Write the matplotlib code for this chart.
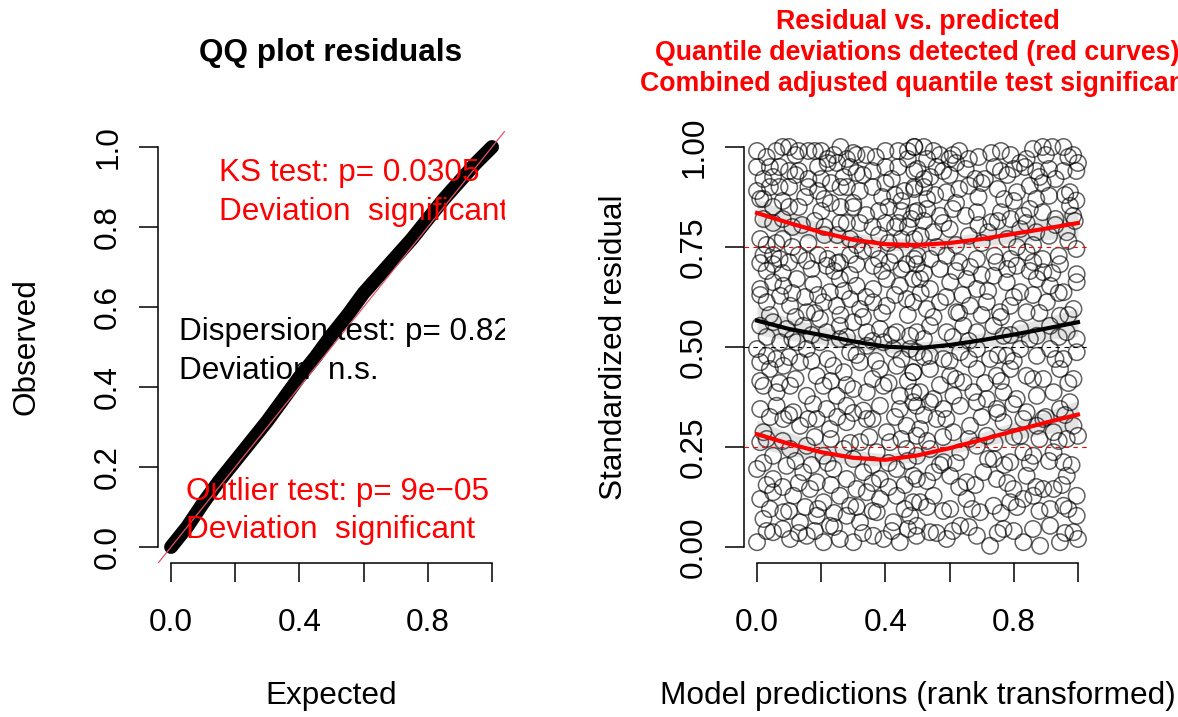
import matplotlib
matplotlib.use("Agg")
import matplotlib.pyplot as plt

plt.rcParams["font.family"] = ["Liberation Sans", "DejaVu Sans"]

# --- QQ panel: expected vs observed quantiles ---
qq_expected = [0.0, 0.05, 0.1, 0.15, 0.2, 0.25, 0.3, 0.35, 0.4, 0.45, 0.5,
               0.55, 0.6, 0.65, 0.7, 0.75, 0.8, 0.85, 0.9, 0.95, 1.0]
qq_observed = [0.0, 0.05, 0.11, 0.165, 0.215, 0.265, 0.315, 0.37, 0.425, 0.475, 0.53,
               0.58, 0.635, 0.68, 0.725, 0.77, 0.82, 0.87, 0.915, 0.96, 1.0]

ks_text = ["KS test: p= 0.0305", "Deviation  significant"]
disp_text = ["Dispersion test: p= 0.82", "Deviation  n.s."]
outlier_text = ["Outlier test: p= 9e\u221205", "Deviation  significant"]

# --- residual vs predicted panel ---
pred_x = [
    # top-left block
    0.00, 0.06, 0.08, 0.10, 0.13, 0.16, 0.18, 0.20, 0.24, 0.26, 0.28, 0.31, 0.34, 0.40, 0.44, 0.47, 0.49,
    0.00, 0.04, 0.02, 0.07, 0.10, 0.13, 0.16, 0.19, 0.22, 0.25, 0.29, 0.33, 0.36, 0.40, 0.44, 0.47, 0.49,
    0.00, 0.04, 0.07, 0.10, 0.16, 0.19, 0.23, 0.26, 0.28, 0.32, 0.36, 0.40, 0.43, 0.46, 0.49,
    0.01, 0.05, 0.10, 0.13, 0.20, 0.23, 0.26, 0.30, 0.34, 0.38, 0.41, 0.45, 0.48, 0.50,
    0.02, 0.08, 0.11, 0.21, 0.26, 0.32, 0.36, 0.40, 0.44, 0.47,
    0.01, 0.06, 0.08, 0.21, 0.25, 0.29, 0.38, 0.45, 0.49,
    0.02, 0.05, 0.07, 0.13, 0.19, 0.22, 0.25, 0.29, 0.33, 0.38, 0.43, 0.49,
    # top-right block
    0.49, 0.52, 0.55, 0.57, 0.60, 0.63, 0.66, 0.76, 0.79, 0.82, 0.86, 0.89, 0.92, 0.955, 0.985, 1.00,
    0.50, 0.52, 0.56, 0.58, 0.62, 0.65, 0.68, 0.74, 0.76, 0.80, 0.835, 0.87, 0.91, 0.955, 0.995,
    0.49, 0.52, 0.555, 0.59, 0.63, 0.66, 0.70, 0.75, 0.77, 0.81, 0.85, 0.89, 0.91, 0.975, 0.995,
    0.49, 0.53, 0.57, 0.61, 0.65, 0.685, 0.73, 0.76, 0.79, 0.83, 0.85, 0.89, 0.93, 0.975, 0.985,
    0.51, 0.55, 0.60, 0.66, 0.72, 0.78, 0.82, 0.87, 0.91, 0.965,
    0.50, 0.54, 0.59, 0.63, 0.685, 0.74, 0.79, 0.84, 0.89, 0.94, 0.995,
    # middle-left block
    0.01, 0.05, 0.10, 0.155, 0.217, 0.258, 0.31, 0.362, 0.414, 0.466,
    0.01, 0.05, 0.082, 0.124, 0.175, 0.227, 0.258, 0.31, 0.362, 0.404, 0.445, 0.487,
    0.03, 0.072, 0.103, 0.155, 0.207, 0.248, 0.29, 0.321, 0.362, 0.404, 0.466,
    0.01, 0.05, 0.092, 0.144, 0.196, 0.217, 0.258, 0.30, 0.342, 0.383, 0.435, 0.477,
    0.00, 0.03, 0.072, 0.124, 0.155, 0.196, 0.258, 0.29, 0.342, 0.394, 0.425, 0.477,
    0.01, 0.04, 0.082, 0.134, 0.186, 0.238, 0.27, 0.321, 0.383, 0.435, 0.487,
    0.02, 0.061, 0.103, 0.155, 0.207, 0.248, 0.30, 0.342, 0.394, 0.445, 0.487,
    # middle-right block
    0.498, 0.57, 0.664, 0.747, 0.809, 0.861, 0.892, 0.944, 0.996,
    0.508, 0.539, 0.602, 0.653, 0.685, 0.737, 0.778, 0.82, 0.872, 0.913, 0.955, 0.996,
    0.487, 0.529, 0.57, 0.622, 0.664, 0.716, 0.757, 0.789, 0.84, 0.903, 0.944, 0.986,
    0.498, 0.539, 0.591, 0.643, 0.685, 0.737, 0.768, 0.82, 0.872, 0.913, 0.965, 0.996,
    0.498, 0.539, 0.581, 0.633, 0.685, 0.726, 0.778, 0.82, 0.872, 0.913, 0.955, 0.996,
    0.487, 0.539, 0.602, 0.643, 0.685, 0.747, 0.789, 0.84, 0.892, 0.944, 0.986,
    0.508, 0.55, 0.612, 0.674, 0.716, 0.768, 0.809, 0.872, 0.924, 0.975,
    # bottom-left block
    0.01, 0.061, 0.113, 0.175, 0.217, 0.279, 0.331, 0.383, 0.445, 0.487,
    0.02, 0.082, 0.134, 0.186, 0.227, 0.279, 0.342, 0.404, 0.466, 0.497,
    0.01, 0.05, 0.103, 0.155, 0.207, 0.27, 0.321, 0.373, 0.414, 0.466,
    0.00, 0.05, 0.092, 0.144, 0.186, 0.238, 0.279, 0.331, 0.383, 0.435, 0.487,
    0.01, 0.05, 0.113, 0.165, 0.207, 0.258, 0.29, 0.342, 0.383, 0.435, 0.487,
    0.02, 0.082, 0.134, 0.186, 0.227, 0.279, 0.321, 0.373, 0.425, 0.477,
    0.00, 0.05, 0.103, 0.155, 0.207, 0.258, 0.30, 0.362, 0.394, 0.445, 0.497,
    # bottom-right block
    0.498, 0.539, 0.581, 0.633, 0.685, 0.747, 0.799, 0.84, 0.892, 0.944, 0.986, 1.00,
    0.508, 0.56, 0.612, 0.664, 0.716, 0.768, 0.82, 0.872, 0.924, 0.965,
    0.498, 0.539, 0.581, 0.633, 0.685, 0.737, 0.789, 0.83, 0.861, 0.924, 0.955,
    0.498, 0.55, 0.602, 0.653, 0.705, 0.747, 0.799, 0.84, 0.892, 0.924, 0.965, 0.996,
    0.508, 0.55, 0.602, 0.653, 0.695, 0.737, 0.789, 0.83, 0.861, 0.913, 0.955, 0.996,
    0.498, 0.539, 0.591, 0.633, 0.685, 0.726, 0.768, 0.83, 0.882, 0.913, 0.944, 0.986, 1.00,
    # points lying between the rows above
    0.03, 0.12, 0.22, 0.30, 0.37, 0.53, 0.61, 0.69, 0.73, 0.84, 0.90, 0.97,
    0.05, 0.12, 0.20, 0.27, 0.31, 0.42, 0.54, 0.60, 0.71, 0.78, 0.88, 0.93,
    0.02, 0.08, 0.15, 0.21, 0.30, 0.39, 0.45, 0.53, 0.62, 0.69, 0.80, 0.87, 0.96,
    0.05, 0.14, 0.18, 0.28, 0.43, 0.52, 0.58, 0.69, 0.75, 0.84, 0.93, 0.99,
    0.03, 0.11, 0.16, 0.31, 0.36, 0.41, 0.56, 0.62, 0.70, 0.81, 0.86, 0.97,
    0.03, 0.08, 0.17, 0.24, 0.29, 0.39, 0.45, 0.52, 0.62, 0.70, 0.78, 0.85, 0.92,
    0.01, 0.11, 0.15, 0.19, 0.27, 0.34, 0.43, 0.51, 0.59, 0.64, 0.72, 0.80, 0.86, 0.94,
    0.04, 0.12, 0.18, 0.26, 0.33, 0.39, 0.47, 0.55, 0.63, 0.70, 0.76, 0.88, 0.97,
    0.03, 0.11, 0.17, 0.28, 0.36, 0.42, 0.52, 0.61, 0.66, 0.79, 0.85, 0.94,
    0.06, 0.10, 0.17, 0.22, 0.31, 0.37, 0.45, 0.52, 0.60, 0.66, 0.75, 0.80, 0.93,
    0.01, 0.07, 0.12, 0.23, 0.28, 0.36, 0.41, 0.47, 0.57, 0.62, 0.71, 0.76, 0.86, 0.97,
    0.04, 0.10, 0.16, 0.25, 0.30, 0.36, 0.43, 0.52, 0.59, 0.70, 0.75, 0.83, 0.90, 0.96,
    0.03, 0.08, 0.18, 0.23, 0.29, 0.35, 0.45, 0.53, 0.58, 0.66, 0.74, 0.80, 0.88, 0.94,
    0.02, 0.12, 0.17, 0.22, 0.30, 0.36, 0.41, 0.47, 0.57, 0.62, 0.72, 0.77, 0.85, 0.91, 0.98,
    0.03, 0.08, 0.13, 0.23, 0.31, 0.36, 0.41, 0.46, 0.53, 0.63, 0.68, 0.78, 0.87, 0.95,
    0.04, 0.10, 0.15, 0.19, 0.24, 0.31, 0.36, 0.46, 0.53, 0.58, 0.67, 0.76, 0.81, 0.88, 0.97,
    0.03, 0.08, 0.13, 0.18, 0.24, 0.33, 0.42, 0.47, 0.56, 0.61, 0.66, 0.75, 0.80, 0.86, 0.96,
]
resid_y = [
    # top-left block
    0.99, 0.99, 1.00, 1.00, 0.99, 0.99, 0.99, 0.99, 0.98, 1.00, 0.97, 0.98, 0.98, 0.99, 0.99, 0.99, 1.00,
    0.95, 0.95, 0.92, 0.95, 0.94, 0.94, 0.92, 0.95, 0.96, 0.96, 0.95, 0.93, 0.94, 0.95, 0.95, 0.97, 0.94,
    0.89, 0.90, 0.90, 0.90, 0.90, 0.89, 0.91, 0.90, 0.90, 0.89, 0.90, 0.91, 0.88, 0.89, 0.90,
    0.87, 0.85, 0.85, 0.85, 0.84, 0.86, 0.85, 0.85, 0.83, 0.84, 0.85, 0.84, 0.82, 0.84,
    0.82, 0.82, 0.80, 0.80, 0.81, 0.81, 0.80, 0.81, 0.81, 0.80,
    0.77, 0.76, 0.77, 0.78, 0.78, 0.77, 0.78, 0.77, 0.77,
    0.73, 0.73, 0.72, 0.73, 0.73, 0.72, 0.71, 0.73, 0.74, 0.72, 0.73, 0.72,
    # top-right block
    1.00, 1.00, 0.99, 0.98, 0.97, 0.99, 0.97, 0.99, 0.98, 0.96, 0.995, 1.00, 1.00, 1.00, 0.98, 0.96,
    0.945, 0.92, 0.95, 0.94, 0.96, 0.945, 0.92, 0.95, 0.94, 0.945, 0.95, 0.94, 0.945, 0.94, 0.94,
    0.895, 0.90, 0.88, 0.887, 0.895, 0.903, 0.91, 0.895, 0.87, 0.887, 0.903, 0.91, 0.878, 0.887, 0.866,
    0.837, 0.845, 0.828, 0.845, 0.828, 0.837, 0.812, 0.837, 0.82, 0.828, 0.845, 0.837, 0.82, 0.853, 0.828,
    0.778, 0.787, 0.795, 0.778, 0.787, 0.77, 0.795, 0.787, 0.778, 0.787,
    0.728, 0.72, 0.728, 0.712, 0.72, 0.728, 0.72, 0.737, 0.72, 0.728, 0.745,
    # middle-left block
    0.71, 0.707, 0.712, 0.716, 0.703, 0.712, 0.707, 0.703, 0.712, 0.707,
    0.645, 0.662, 0.653, 0.67, 0.657, 0.637, 0.67, 0.653, 0.645, 0.67, 0.653, 0.67,
    0.612, 0.628, 0.603, 0.587, 0.612, 0.603, 0.62, 0.595, 0.612, 0.603, 0.62,
    0.553, 0.562, 0.545, 0.553, 0.57, 0.537, 0.553, 0.562, 0.537, 0.545, 0.537, 0.528,
    0.495, 0.478, 0.512, 0.512, 0.495, 0.512, 0.52, 0.487, 0.503, 0.512, 0.495, 0.495,
    0.462, 0.445, 0.453, 0.462, 0.428, 0.453, 0.437, 0.462, 0.445, 0.453, 0.437,
    0.403, 0.387, 0.403, 0.378, 0.403, 0.378, 0.395, 0.387, 0.403, 0.378, 0.387,
    # middle-right block
    0.707, 0.695, 0.70, 0.712, 0.703, 0.712, 0.687, 0.707, 0.682,
    0.67, 0.645, 0.662, 0.67, 0.645, 0.678, 0.662, 0.637, 0.67, 0.653, 0.637, 0.662,
    0.612, 0.595, 0.612, 0.587, 0.603, 0.612, 0.587, 0.603, 0.587, 0.612, 0.578, 0.595,
    0.537, 0.553, 0.537, 0.553, 0.537, 0.553, 0.528, 0.545, 0.528, 0.553, 0.537, 0.52,
    0.487, 0.478, 0.47, 0.487, 0.495, 0.47, 0.478, 0.495, 0.478, 0.495, 0.47, 0.487,
    0.437, 0.445, 0.428, 0.412, 0.445, 0.428, 0.445, 0.428, 0.42, 0.445, 0.42,
    0.387, 0.37, 0.378, 0.387, 0.37, 0.387, 0.37, 0.378, 0.387, 0.362,
    # bottom-left block
    0.345, 0.353, 0.337, 0.357, 0.345, 0.353, 0.341, 0.353, 0.345, 0.362,
    0.287, 0.32, 0.303, 0.32, 0.295, 0.312, 0.32, 0.287, 0.303, 0.278,
    0.262, 0.228, 0.245, 0.253, 0.228, 0.245, 0.262, 0.237, 0.262, 0.245,
    0.195, 0.17, 0.203, 0.187, 0.162, 0.195, 0.17, 0.187, 0.17, 0.195, 0.178,
    0.12, 0.137, 0.128, 0.145, 0.112, 0.128, 0.103, 0.137, 0.12, 0.128, 0.112,
    0.07, 0.087, 0.062, 0.078, 0.053, 0.078, 0.062, 0.087, 0.062, 0.078,
    0.012, 0.037, 0.02, 0.028, 0.012, 0.02, 0.012, 0.028, 0.02, 0.012, 0.028,
    # bottom-right block
    0.353, 0.362, 0.345, 0.353, 0.362, 0.345, 0.357, 0.337, 0.32, 0.345, 0.303, 0.278,
    0.295, 0.32, 0.287, 0.303, 0.278, 0.312, 0.278, 0.303, 0.287, 0.27,
    0.228, 0.245, 0.212, 0.237, 0.253, 0.22, 0.212, 0.237, 0.228, 0.237, 0.212,
    0.17, 0.187, 0.178, 0.162, 0.187, 0.17, 0.145, 0.178, 0.145, 0.145, 0.178, 0.128,
    0.112, 0.128, 0.095, 0.12, 0.087, 0.103, 0.112, 0.12, 0.128, 0.095, 0.103, 0.078,
    0.053, 0.037, 0.02, 0.053, 0.028, 0.003, 0.045, 0.012, 0.003, 0.053, 0.012, 0.037, 0.02,
    # points lying between the rows above
    0.975, 0.98, 0.97, 0.985, 0.975, 0.97, 0.98, 0.975, 0.985, 0.97, 0.98, 0.975,
    0.925, 0.93, 0.92, 0.925, 0.935, 0.92, 0.925, 0.93, 0.92, 0.93, 0.925, 0.92,
    0.87, 0.865, 0.875, 0.87, 0.86, 0.875, 0.865, 0.87, 0.86, 0.875, 0.865, 0.87, 0.88,
    0.81, 0.805, 0.815, 0.81, 0.80, 0.815, 0.81, 0.805, 0.815, 0.81, 0.805, 0.815,
    0.755, 0.75, 0.76, 0.755, 0.745, 0.76, 0.75, 0.755, 0.76, 0.75, 0.755, 0.765,
    0.69, 0.685, 0.695, 0.69, 0.68, 0.69, 0.695, 0.685, 0.69, 0.68, 0.695, 0.69, 0.685,
    0.63, 0.635, 0.625, 0.63, 0.64, 0.625, 0.63, 0.635, 0.625, 0.63, 0.64, 0.625, 0.63, 0.635,
    0.58, 0.575, 0.585, 0.58, 0.575, 0.585, 0.58, 0.575, 0.585, 0.58, 0.575, 0.585, 0.58,
    0.525, 0.52, 0.53, 0.525, 0.515, 0.53, 0.52, 0.525, 0.515, 0.53, 0.52, 0.525,
    0.47, 0.475, 0.465, 0.47, 0.48, 0.465, 0.47, 0.475, 0.465, 0.47, 0.48, 0.465, 0.47,
    0.415, 0.41, 0.42, 0.415, 0.405, 0.42, 0.41, 0.415, 0.405, 0.42, 0.41, 0.415, 0.42, 0.41,
    0.325, 0.33, 0.32, 0.325, 0.335, 0.32, 0.325, 0.33, 0.32, 0.325, 0.335, 0.32, 0.325, 0.33,
    0.27, 0.265, 0.275, 0.27, 0.26, 0.275, 0.27, 0.265, 0.275, 0.27, 0.26, 0.275, 0.27, 0.265,
    0.21, 0.215, 0.205, 0.21, 0.22, 0.205, 0.21, 0.215, 0.205, 0.21, 0.22, 0.205, 0.21, 0.215, 0.205,
    0.155, 0.15, 0.16, 0.155, 0.145, 0.16, 0.15, 0.155, 0.165, 0.15, 0.155, 0.16, 0.15, 0.155,
    0.095, 0.09, 0.1, 0.095, 0.085, 0.1, 0.09, 0.095, 0.1, 0.09, 0.095, 0.085, 0.1, 0.09, 0.095,
    0.04, 0.045, 0.035, 0.04, 0.05, 0.035, 0.04, 0.045, 0.035, 0.04, 0.05, 0.035, 0.04, 0.045, 0.035,
]

# fitted quantile curves (0.25 / 0.5 / 0.75) and their band half-widths
curve_x = [0.0, 0.1, 0.2, 0.3, 0.4, 0.5, 0.6, 0.7, 0.8, 0.9, 1.0]
q75 = [0.835, 0.81, 0.787, 0.768, 0.757, 0.755, 0.76, 0.77, 0.783, 0.796, 0.81]
q50 = [0.566, 0.545, 0.530, 0.514, 0.501, 0.497, 0.505, 0.517, 0.531, 0.546, 0.562]
q25 = [0.282, 0.258, 0.237, 0.223, 0.218, 0.229, 0.247, 0.268, 0.290, 0.311, 0.331]
band = [0.035, 0.028, 0.022, 0.018, 0.015, 0.015, 0.015, 0.018, 0.022, 0.028, 0.035]

FS = 22.7
W, H = 1178, 717


def style_axes(ax, xticks, xlabels, yticks, ylabels):
    ax.set_xlim(-0.04, 1.04)
    ax.set_ylim(-0.04, 1.04)
    ax.spines["top"].set_visible(False)
    ax.spines["right"].set_visible(False)
    ax.spines["left"].set_bounds(0, 1)
    ax.spines["bottom"].set_bounds(0, 1)
    for s in ("left", "bottom"):
        ax.spines[s].set_linewidth(1.1)
    ax.set_xticks(xticks)
    ax.set_xticklabels(xlabels)
    ax.set_yticks(yticks)
    ax.set_yticklabels(ylabels, rotation=90, va="center")
    ax.tick_params(direction="out", length=13.7, width=1.1, labelsize=FS)
    ax.tick_params(axis="x", pad=19)
    ax.tick_params(axis="y", pad=11.5)


fig = plt.figure(figsize=(W / 100, H / 100), dpi=100)

# ---------------- left: QQ plot ----------------
ax1 = fig.add_axes([158.2 / W, (H - 563) / H, 346.7 / W, 432 / H])
ax1.patch.set_visible(False)
ax1.plot(qq_expected, qq_observed, color="black", lw=10, solid_capstyle="round", zorder=2)
ax1.plot([-0.04, 1.04], [-0.04, 1.04], color="#DF536B", lw=0.9, zorder=3)
style_axes(ax1, [0, 0.2, 0.4, 0.6, 0.8, 1.0], ["0.0", "", "0.4", "", "0.8", ""],
           [0, 0.2, 0.4, 0.6, 0.8, 1.0], ["0.0", "0.2", "0.4", "0.6", "0.8", "1.0"])
ax1.set_xlabel("Expected", fontsize=FS)
ax1.set_ylabel("Observed", fontsize=FS)
ax1.xaxis.set_label_coords(0.5, -0.273)
ax1.yaxis.set_label_coords(-0.336, 0.5)

for txt, x0, ys, col in [(ks_text, 0.1495, (0.915, 0.8175), "red"),
                         (disp_text, 0.025, (0.5175, 0.42), "black"),
                         (outlier_text, 0.047, (0.1175, 0.0225), "red")]:
    for line, yy in zip(txt, ys):
        ax1.text(x0, yy, line, color=col, fontsize=FS, va="baseline", ha="left",
                 clip_on=True, zorder=4)

fig.text(331 / W, 1 - 53 / H, "QQ plot residuals", ha="center", va="center",
         fontsize=FS, fontweight="bold")

# ---------------- right: residual vs predicted ----------------
ax2 = fig.add_axes([744.2 / W, (H - 563) / H, 346.6 / W, 432 / H])
ax2.patch.set_visible(False)
for c, hw in [(q75, band), (q50, band), (q25, band)]:
    ax2.fill_between(curve_x, [v - h for v, h in zip(c, hw)], [v + h for v, h in zip(c, hw)],
                     color="#e3e3e3", lw=0, zorder=1)
ax2.scatter(pred_x, resid_y, s=140, facecolors="none", edgecolors=(0, 0, 0, 0.62),
            linewidths=1.1, zorder=2)
ax2.axhline(0.5, color="black", lw=0.8, ls=(0, (4, 4)), zorder=3)
ax2.axhline(0.25, color="red", lw=0.8, ls=(0, (4, 4)), zorder=3)
ax2.axhline(0.75, color="red", lw=0.8, ls=(0, (4, 4)), zorder=3)
ax2.plot(curve_x, q75, color="red", lw=3, zorder=4)
ax2.plot(curve_x, q25, color="red", lw=3, zorder=4)
ax2.plot(curve_x, q50, color="black", lw=3, zorder=4)
style_axes(ax2, [0, 0.2, 0.4, 0.6, 0.8, 1.0], ["0.0", "", "0.4", "", "0.8", ""],
           [0, 0.25, 0.5, 0.75, 1.0], ["0.00", "0.25", "0.50", "0.75", "1.00"])
ax2.set_xlabel("Model predictions (rank transformed)", fontsize=FS)
ax2.set_ylabel("Standardized residual", fontsize=FS)
ax2.xaxis.set_label_coords(0.5, -0.273)
ax2.yaxis.set_label_coords(-0.3335, 0.5)

title_lines = ["Residual vs. predicted",
               "Quantile deviations detected (red curves)",
               "Combined adjusted quantile test significant"]
for i, line in enumerate(title_lines):
    fig.text(917.5 / W, 1 - (22 + 31 * i) / H, line, ha="center", va="center",
             fontsize=19.3, fontweight="bold", color="red")

fig.savefig("out.png", dpi=100)
